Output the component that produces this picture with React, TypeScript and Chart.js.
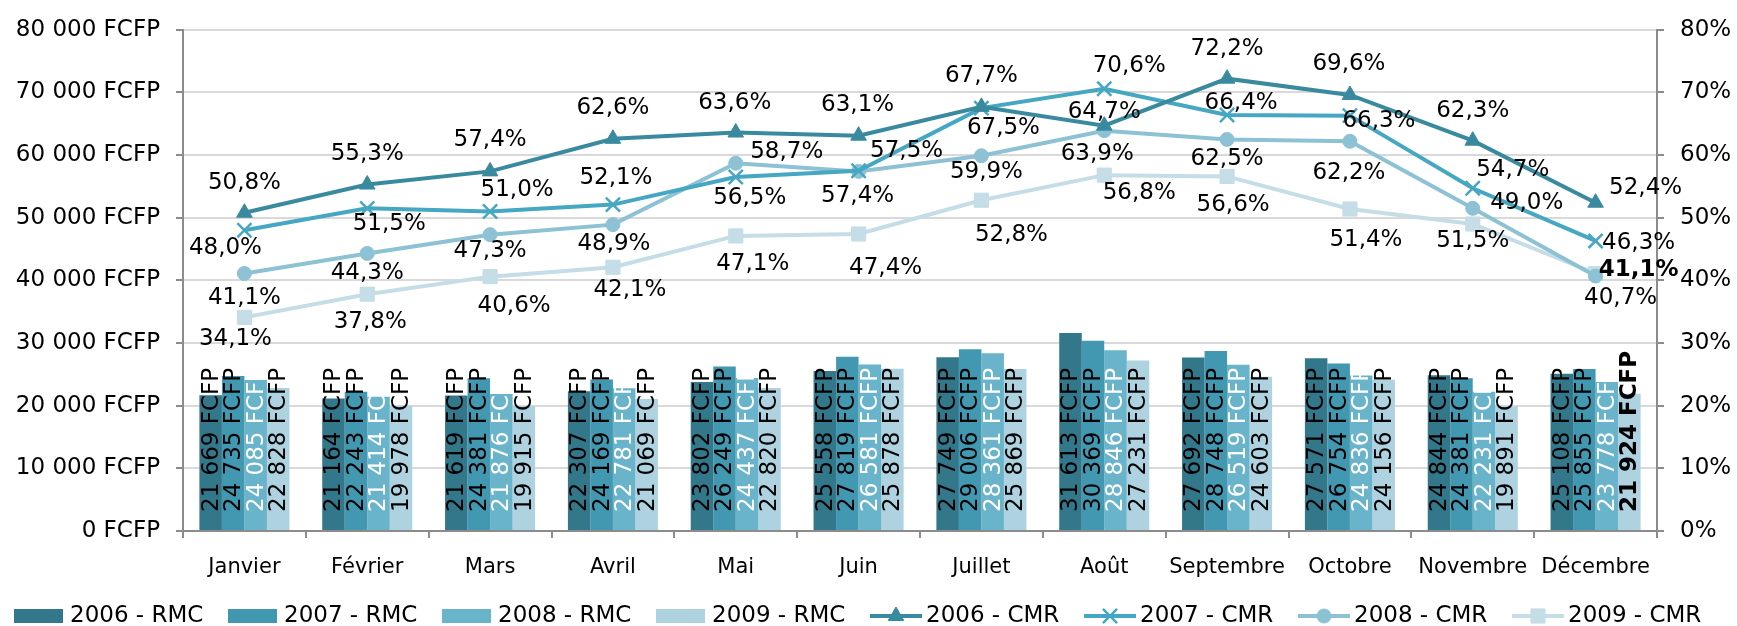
import { useEffect, useRef } from 'react';
import { Chart, registerables } from 'chart.js';
import { drawPoint } from 'chart.js/helpers';

Chart.register(...registerables);

// ---------- data ----------
const months = ['Janvier', 'Février', 'Mars', 'Avril', 'Mai', 'Juin', 'Juillet', 'Août', 'Septembre', 'Octobre', 'Novembre', 'Décembre'];

const rmc2006 = [21669, 21164, 21619, 22307, 23802, 25558, 27749, 31613, 27692, 27571, 24844, 25108];
const rmc2007 = [24735, 22243, 24381, 24169, 26249, 27819, 29006, 30369, 28748, 26754, 24381, 25855];
const rmc2008 = [24085, 21414, 21876, 22781, 24437, 26581, 28361, 28846, 26519, 24836, 22231, 23778];
const rmc2009 = [22828, 19978, 19915, 21069, 22820, 25878, 25869, 27231, 24603, 24156, 19891, 21924];

const cmr2006 = [50.8, 55.3, 57.4, 62.6, 63.6, 63.1, 67.7, 64.7, 72.2, 69.6, 62.3, 52.4];
const cmr2007 = [48.0, 51.5, 51.0, 52.1, 56.5, 57.5, 67.5, 70.6, 66.4, 66.3, 54.7, 46.3];
const cmr2008 = [41.1, 44.3, 47.3, 48.9, 58.7, 57.4, 59.9, 63.9, 62.5, 62.2, 51.5, 40.7];
const cmr2009 = [34.1, 37.8, 40.6, 42.1, 47.1, 47.4, 52.8, 56.8, 56.6, 51.4, 49.0, 41.1];

const leftAxisMax = 80000;
const leftAxisStep = 10000;
const rightAxisMax = 80;
const rightAxisStep = 10;

// ---------- label placement (layout, not data) ----------
const off2006 = [[0, -30], [0, -31], [0, -31], [0, -31], [-1, -30], [-1, -31], [0, -31], [0, -14], [0, -30], [-1, -31], [0, -30], [50, -15]];
const off2007 = [[-19, 18], [22, 16], [27, -21], [3, -27], [14, 21], [48, -20], [22, 20], [25, -23], [14, -12], [29, 5], [40, -18], [43, 2]];
const off2008 = [[0, 25], [0, 20], [0, 16], [1, 19], [51, -11], [-1, 25], [5, 16], [-7, 23], [0, 20], [-1, 32], [0, 33], [25, 22]];
const off2009 = [[-9, 22], [3, 28], [24, 29], [17, 23], [17, 28], [27, 34], [30, 35], [35, 18], [6, 29], [16, 31], [54, -21], [43, -3]];

const FONT = "'DejaVu Sans', Verdana, sans-serif";
const AXIS_GRAY = '#8c8c8c';
const GRID_GRAY = '#d9d9d9';
const TEXT_SIZE = 23;

const fmtThousands = (v: number) => String(Math.round(v)).replace(/\B(?=(\d{3})+(?!\d))/g, ' ');
const fmtPct = (v: number) => v.toFixed(1).replace('.', ',') + '%';

const labelPlugin = {
  id: 'valueLabels',
  afterDatasetsDraw(chart: any) {
    const ctx = chart.ctx;
    chart.data.datasets.forEach((ds: any, di: number) => {
      const meta = chart.getDatasetMeta(di);
      if (ds.type !== 'bar') return;
      meta.data.forEach((el: any, i: number) => {
        const bold = ds.boldIndex === i;
        ctx.save();
        ctx.font = `${bold ? 'bold ' : ''}${TEXT_SIZE}px ${FONT}`;
        ctx.fillStyle = ds.labelColor;
        ctx.translate(el.x + 1, chart.chartArea.bottom - 19);
        ctx.rotate(-Math.PI / 2);
        ctx.textAlign = 'left';
        ctx.textBaseline = 'middle';
        ctx.fillText(fmtThousands(ds.data[i]) + ' FCFP', 0, 0);
        ctx.restore();
      });
    });
    chart.data.datasets.forEach((ds: any, di: number) => {
      const meta = chart.getDatasetMeta(di);
      if (ds.type !== 'line') return;
      meta.data.forEach((el: any, i: number) => {
        const [dx, dy] = ds.labelOffsets[i];
        const bold = ds.boldIndex === i;
        ctx.save();
        ctx.font = `${bold ? 'bold ' : ''}${TEXT_SIZE}px ${FONT}`;
        ctx.fillStyle = '#000';
        ctx.textAlign = 'center';
        ctx.textBaseline = 'middle';
        ctx.fillText(fmtPct(ds.data[i]), el.x + dx, el.y + dy);
        ctx.restore();
      });
    });
  },
};

const legendPlugin = {
  id: 'customLegend',
  afterDraw(chart: any) {
    const ctx = chart.ctx;
    const cy = 616;
    chart.data.datasets.forEach((ds: any, i: number) => {
      const x0 = 14 + 214 * i;
      ctx.save();
      if (ds.type === 'bar') {
        ctx.fillStyle = ds.backgroundColor;
        ctx.fillRect(x0, cy - 7, 49, 14);
      } else {
        ctx.strokeStyle = ds.borderColor;
        ctx.lineWidth = 4;
        ctx.beginPath();
        ctx.moveTo(x0, cy);
        ctx.lineTo(x0 + 52, cy);
        ctx.stroke();
        ctx.fillStyle = ds.pointBackgroundColor;
        ctx.strokeStyle = ds.pointBorderColor;
        ctx.lineWidth = ds.pointBorderWidth;
        drawPoint(ctx, { pointStyle: ds.pointStyle, radius: ds.pointRadius, rotation: 0, borderWidth: ds.pointBorderWidth } as any, x0 + 26, cy);
      }
      ctx.fillStyle = '#000';
      ctx.font = `${TEXT_SIZE}px ${FONT}`;
      ctx.textAlign = 'left';
      ctx.textBaseline = 'middle';
      ctx.fillText(ds.label, x0 + 56, cy);
      ctx.restore();
    });
  },
};

function barDs(label: string, data: number[], color: string, labelColor: string, boldIndex = -1) {
  return {
    type: 'bar' as const,
    label,
    data,
    backgroundColor: color,
    borderWidth: 0,
    barPercentage: 1,
    categoryPercentage: 0.733,
    yAxisID: 'y',
    order: 10,
    labelColor,
    boldIndex,
  };
}

function lineDs(label: string, data: number[], color: string, pointStyle: string, radius: number, order: number, offsets: number[][], boldIndex = -1) {
  const cross = pointStyle === 'crossRot';
  return {
    type: 'line' as const,
    label,
    data,
    borderColor: color,
    backgroundColor: color,
    borderWidth: 4,
    pointStyle,
    pointRadius: radius,
    pointBackgroundColor: color,
    pointBorderColor: color,
    pointBorderWidth: cross ? 2.5 : 1,
    tension: 0,
    yAxisID: 'y1',
    order,
    labelOffsets: offsets,
    boldIndex,
  };
}

export default function App() {
  const ref = useRef<HTMLCanvasElement>(null);

  useEffect(() => {
    document.body.style.margin = '0';
    const chart = new Chart(ref.current as HTMLCanvasElement, {
      data: {
        labels: months,
        datasets: [
          barDs('2006 - RMC', rmc2006, '#32778a', '#000'),
          barDs('2007 - RMC', rmc2007, '#4298b0', '#000'),
          barDs('2008 - RMC', rmc2008, '#69b4cb', '#fff'),
          barDs('2009 - RMC', rmc2009, '#aed2df', '#000', 11),
          lineDs('2006 - CMR', cmr2006, '#3a8a9f', 'triangle', 9, 1, off2006),
          lineDs('2007 - CMR', cmr2007, '#46a7c2', 'crossRot', 10, 2, off2007),
          lineDs('2008 - CMR', cmr2008, '#8dc1d4', 'circle', 7, 3, off2008),
          lineDs('2009 - CMR', cmr2009, '#c4dde6', 'rect', 10, 4, off2009, 11),
        ] as any,
      },
      options: {
        responsive: false,
        animation: false,
        layout: { padding: { top: 22.7, bottom: 45, left: 0, right: 0 } },
        plugins: { legend: { display: false }, tooltip: { enabled: false } },
        scales: {
          x: {
            offset: true,
            grid: { offset: true, drawOnChartArea: false, tickLength: 7, color: AXIS_GRAY, lineWidth: 2 },
            border: { color: AXIS_GRAY, width: 2 },
            ticks: { color: '#000', font: { family: FONT, size: 21 }, padding: 17, maxRotation: 0, autoSkip: false },
            afterFit: (s: any) => { s.height = 50; },
          },
          y: {
            position: 'left',
            min: 0,
            max: leftAxisMax,
            ticks: {
              stepSize: leftAxisStep,
              color: '#000',
              font: { family: FONT, size: TEXT_SIZE },
              padding: 16,
              callback: (v: any) => fmtThousands(Number(v)) + ' FCFP',
            },
            grid: {
              color: (c: any) => (c.tick && c.tick.value === 0 ? AXIS_GRAY : GRID_GRAY),
              lineWidth: 2,
              tickColor: AXIS_GRAY,
              tickLength: 7,
            },
            border: { color: AXIS_GRAY, width: 2 },
            afterFit: (s: any) => { s.width = 183; },
          },
          y1: {
            position: 'right',
            min: 0,
            max: rightAxisMax,
            ticks: {
              stepSize: rightAxisStep,
              color: '#000',
              font: { family: FONT, size: TEXT_SIZE },
              padding: 16,
              callback: (v: any) => v + '%',
            },
            grid: { drawOnChartArea: false, tickColor: AXIS_GRAY, tickLength: 7, lineWidth: 2 },
            border: { color: AXIS_GRAY, width: 2 },
            afterFit: (s: any) => { s.width = 80; },
          },
        },
      } as any,
      plugins: [labelPlugin, legendPlugin],
    });
    return () => chart.destroy();
  }, []);

  return (
    <div style={{ width: 1737, height: 626, background: '#fff' }}>
      <canvas ref={ref} width={1737} height={626} style={{ display: 'block' }} />
    </div>
  );
}
